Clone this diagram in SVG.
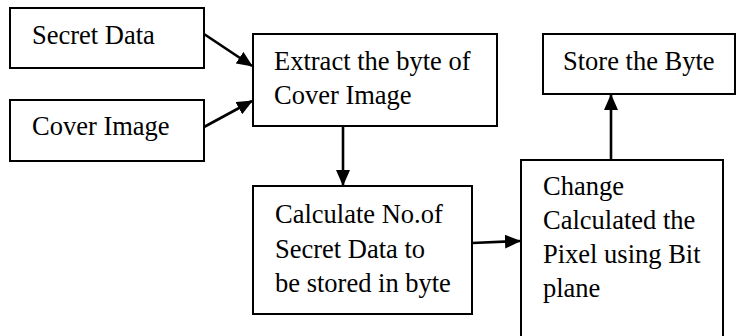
<svg xmlns="http://www.w3.org/2000/svg" width="736" height="336" viewBox="0 0 736 336">
<style>
  .box { fill: #ffffff; stroke: #000000; stroke-width: 2; }
  .lbl { font-family: "Liberation Serif", "Times New Roman", serif; font-size: 26.5px; fill: #000000; }
  .conn { stroke: #000000; stroke-width: 2.6; fill: none; marker-end: url(#ah); }
</style>
<defs>
  <marker id="ah" markerWidth="16" markerHeight="14" refX="15" refY="7" orient="auto" markerUnits="userSpaceOnUse">
    <path d="M0,0 L16,7 L0,14 Z" fill="#000000"/>
  </marker>
</defs>
<rect width="736" height="336" fill="#ffffff"/>
<g id="secret-data">
  <rect class="box" x="10" y="8" width="194" height="60"/>
  <text class="lbl" x="32" y="44">Secret Data</text>
</g>
<g id="cover-image">
  <rect class="box" x="10" y="100" width="194" height="61"/>
  <text class="lbl" x="32" y="135">Cover Image</text>
</g>
<g id="extract">
  <rect class="box" x="253" y="34" width="244" height="92"/>
  <text class="lbl" x="274" y="70">Extract the byte of</text>
  <text class="lbl" x="274" y="104">Cover Image</text>
</g>
<g id="store">
  <rect class="box" x="543" y="34" width="192" height="60"/>
  <text class="lbl" x="563" y="70">Store the Byte</text>
</g>
<g id="calculate">
  <rect class="box" x="253" y="186" width="219" height="128"/>
  <text class="lbl" x="275" y="223">Calculate No.of</text>
  <text class="lbl" x="275" y="258">Secret Data to</text>
  <text class="lbl" x="275" y="292">be stored in byte</text>
</g>
<g id="change">
  <rect class="box" x="521" y="160" width="202" height="200"/>
  <text class="lbl" x="543" y="195">Change</text>
  <text class="lbl" x="543" y="229">Calculated the</text>
  <text class="lbl" x="543" y="263">Pixel using Bit</text>
  <text class="lbl" x="543" y="297">plane</text>
</g>
<g id="connectors">
  <line class="conn" x1="204" y1="34" x2="252" y2="66"/>
  <line class="conn" x1="204" y1="127" x2="252" y2="101"/>
  <line class="conn" x1="343" y1="126" x2="343" y2="185"/>
  <line class="conn" x1="472" y1="243" x2="520" y2="241"/>
  <line class="conn" x1="611" y1="160" x2="611" y2="95"/>
</g>
</svg>
